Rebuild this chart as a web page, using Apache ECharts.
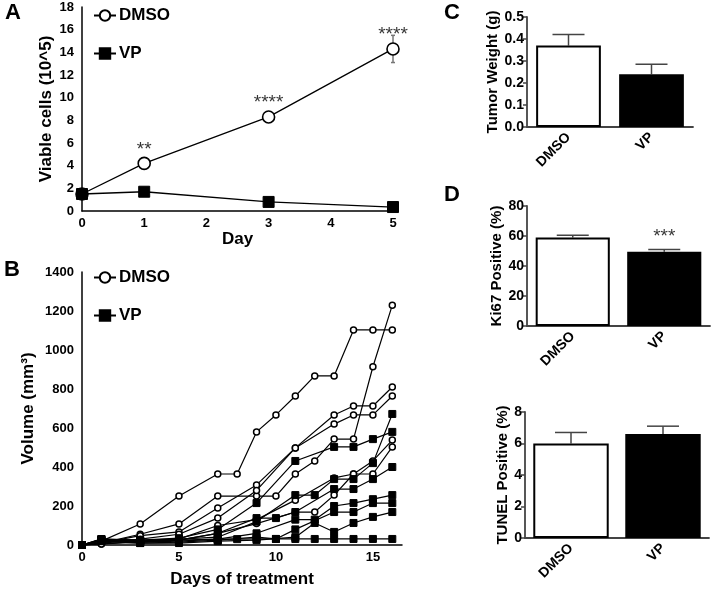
<!DOCTYPE html>
<html>
<head>
<meta charset="utf-8">
<script src="https://cdn.jsdelivr.net/npm/echarts@6/dist/echarts.min.js"></script>
<style>
  html, body { margin: 0; padding: 0; background: #fff; }
  #chart { width: 716px; height: 593px; }
</style>
</head>
<body>
<div id="chart"></div>
<script>
var FONT = 'Liberation Sans, Arial, sans-serif';

// panel A - viable cells
var dayA = [0, 1, 3, 5];
var dmsoCells = [1.5, 4.2, 8.3, 14.3];
var vpCells = [1.5, 1.7, 0.8, 0.35];
var dmsoCellsErr = [[5, 13.1, 15.5]];
var starsA = ['', '**', '****', '****'];

// panel B - tumour volumes per mouse
var daysB = [0, 1, 3, 5, 7, 8, 9, 10, 11, 12, 13, 14, 15, 16];
var dmsoVolumes = [
  [0, 20, 108, 251, 364, 364, 580, 667, 764, 867, 867, 1103, 1103, 1103],
  [0, 10, 55, 108, 251, null, 251, 251, 364, 431, 543, 543, 914, 1230],
  [0, 10, 48, 67, 190, null, 308, null, 498, null, 667, 713, 713, 810],
  [0, 8, 30, 55, 138, null, 280, null, 498, null, 620, 667, 667, 764],
  [0, 5, 20, 30, 100, null, 130, null, 230, null, 344, 364, 431, 538],
  [0, 5, 15, 25, 60, null, 110, null, 169, 169, 256, 364, 364, 503]
];
var vpVolumes = [
  [0, 30, 25, 30, 40, null, 120, null, 256, 256, 338, 338, 420, 672],
  [0, 30, 25, 35, 80, null, 215, null, 431, null, 503, 503, 543, 580],
  [0, 30, 20, 25, 60, null, 138, 138, 169, null, 287, 287, 338, 400],
  [0, 25, 15, 20, 30, null, 60, null, 130, 130, 200, 215, 235, 256],
  [0, 20, 10, 15, 25, null, 40, 31, 80, null, 169, 169, 215, 215],
  [0, 20, 10, 10, 20, null, 25, null, 40, 113, 67, 113, 144, 169],
  [0, 25, 20, 25, 30, 30, 31, 31, 31, 31, 31, 31, 31, 31]
];

// panels C, D - bars
var groups = ['DMSO', 'VP'];
var tumorWeight = [0.37, 0.24];
var tumorWeightErr = [0.05, 0.045];
var ki67 = [59, 49.5];
var ki67Err = [1.5, 1.5];
var ki67Stars = ['', '***'];
var tunel = [6.0, 6.6];
var tunelErr = [0.7, 0.5];

function errBars(capHalf, color) {
  return function (params, api) {
    var x = api.value(0);
    var p1 = api.coord([x, api.value(1)]);
    var p2 = api.coord([x, api.value(2)]);
    var st = { stroke: color, lineWidth: 1.5 };
    var kids = [
      { type: 'line', shape: { x1: p1[0], y1: p1[1], x2: p2[0], y2: p2[1] }, style: st },
      { type: 'line', shape: { x1: p2[0] - capHalf, y1: p2[1], x2: p2[0] + capHalf, y2: p2[1] }, style: st }
    ];
    if (capHalf < 5) {
      kids.push({ type: 'line', shape: { x1: p1[0] - capHalf, y1: p1[1], x2: p1[0] + capHalf, y2: p1[1] }, style: st });
    }
    return { type: 'group', children: kids };
  };
}

function pairs(xs, ys) {
  return xs.map(function (x, i) { return ys[i] == null ? null : [x, ys[i]]; })
           .filter(function (p) { return p; });
}

var boldLabel = { fontFamily: FONT, fontWeight: 'bold', color: '#000' };

function lineXAxis(grid, max, interval, name, gap) {
  return {
    gridIndex: grid, type: 'value', min: 0, max: max, interval: interval,
    axisLine: { onZero: false, lineStyle: { color: '#000', width: 1.5 } },
    axisTick: { show: false }, splitLine: { show: false },
    axisLabel: Object.assign({ fontSize: 13, margin: 6, showMaxLabel: max % interval === 0 }, boldLabel),
    name: name, nameLocation: 'middle', nameGap: gap,
    nameTextStyle: Object.assign({ fontSize: 17 }, boldLabel)
  };
}
function lineYAxis(grid, max, interval, name, gap) {
  return {
    gridIndex: grid, type: 'value', min: 0, max: max, interval: interval,
    axisLine: { show: true, onZero: false, lineStyle: { color: '#000', width: 1.5 } },
    axisTick: { show: false }, splitLine: { show: false },
    axisLabel: Object.assign({ fontSize: 13, margin: 8, formatter: function (v) { return String(v); } }, boldLabel),
    name: name, nameLocation: 'middle', nameGap: gap,
    nameTextStyle: Object.assign({ fontSize: 17 }, boldLabel)
  };
}
function barXAxis(grid) {
  return {
    gridIndex: grid, type: 'category', data: groups,
    axisLine: { lineStyle: { color: '#444', width: 1.8 } },
    axisTick: { alignWithLabel: true, length: 5, lineStyle: { color: '#444', width: 1.5 } },
    axisLabel: Object.assign({ fontSize: 14, rotate: 45, margin: 8 }, boldLabel)
  };
}
function barYAxis(grid, max, interval, name, gap, digits) {
  return {
    gridIndex: grid, type: 'value', min: 0, max: max, interval: interval,
    axisLine: { show: true, lineStyle: { color: '#444', width: 1.8 } },
    axisTick: { show: true, length: 4, lineStyle: { color: '#444', width: 1.5 } },
    splitLine: { show: false },
    axisLabel: Object.assign({ fontSize: 14, margin: 3, formatter: function (v) { return v.toFixed(digits); } }, boldLabel),
    name: name, nameLocation: 'middle', nameGap: gap,
    nameTextStyle: Object.assign({ fontSize: 15 }, boldLabel)
  };
}

var dmsoItem = { color: '#fff', borderColor: '#000', borderWidth: 1.6 };
var vpItem = { color: '#000', borderColor: '#000', borderWidth: 1 };
var starLabel = { show: true, position: 'top', formatter: '{b}', fontSize: 19, fontFamily: FONT, color: '#000' };

var series = [
  { type: 'line', name: 'DMSO', xAxisIndex: 0, yAxisIndex: 0, data: pairs(dayA, dmsoCells),
    symbol: 'circle', symbolSize: 12, itemStyle: dmsoItem, lineStyle: { color: '#000', width: 1.3 }, clip: false, z: 4 },
  { type: 'line', name: 'VP', xAxisIndex: 0, yAxisIndex: 0, data: pairs(dayA, vpCells),
    symbol: 'rect', symbolSize: 11, itemStyle: vpItem, lineStyle: { color: '#000', width: 1.3 }, clip: false, z: 4 },
  { type: 'custom', xAxisIndex: 0, yAxisIndex: 0, data: dmsoCellsErr, renderItem: errBars(2, '#777'), z: 3 },
  { type: 'scatter', xAxisIndex: 0, yAxisIndex: 0, symbolSize: 1, itemStyle: { color: 'rgba(0,0,0,0)' },
    data: dayA.map(function (d, i) { return { name: starsA[i], value: [d, dmsoCells[i]] }; }),
    label: Object.assign({ distance: 4 }, starLabel), z: 5 }
];

dmsoVolumes.forEach(function (v) {
  series.push({ type: 'line', name: 'DMSO', xAxisIndex: 1, yAxisIndex: 1, data: pairs(daysB, v),
    symbol: 'circle', symbolSize: 6, itemStyle: { color: '#fff', borderColor: '#000', borderWidth: 1.5 },
    lineStyle: { color: '#000', width: 1.2 }, clip: false, z: 3 });
});
vpVolumes.forEach(function (v) {
  series.push({ type: 'line', name: 'VP', xAxisIndex: 1, yAxisIndex: 1, data: pairs(daysB, v),
    symbol: 'rect', symbolSize: 7, itemStyle: vpItem,
    lineStyle: { color: '#000', width: 1.2 }, clip: false, z: 3 });
});

function barSeries(axis, values, errs, width, stars) {
  var out = [
    { type: 'bar', xAxisIndex: axis, yAxisIndex: axis, barWidth: width,
      data: values.map(function (v, i) {
        return { value: v, itemStyle: i === 0 ? { color: '#fff', borderColor: '#000', borderWidth: 2 } : { color: '#000', borderColor: '#000', borderWidth: 2 } };
      }), z: 3 },
    { type: 'custom', xAxisIndex: axis, yAxisIndex: axis, renderItem: errBars(16, '#444'),
      data: values.map(function (v, i) { return [i, v, v + errs[i]]; }), z: 2 }
  ];
  if (stars) {
    out.push({ type: 'scatter', xAxisIndex: axis, yAxisIndex: axis, symbolSize: 1, itemStyle: { color: 'rgba(0,0,0,0)' },
      data: values.map(function (v, i) { return { name: stars[i], value: [i, v + errs[i]] }; }),
      label: Object.assign({ distance: 3 }, starLabel) });
  }
  return out;
}
series = series.concat(barSeries(2, tumorWeight, tumorWeightErr, '78%'))
               .concat(barSeries(3, ki67, ki67Err, '81%', ki67Stars))
               .concat(barSeries(4, tunel, tunelErr, '82%'));

var legendBase = {
  orient: 'vertical', left: 88, itemGap: 21, itemWidth: 22, itemHeight: 13,
  data: ['DMSO', 'VP'], selectedMode: false,
  textStyle: { fontSize: 17, fontWeight: 'bold', fontFamily: FONT, color: '#000', padding: [0, 0, 0, -2] }
};

var chart = echarts.init(document.getElementById('chart'), null, { renderer: 'canvas' });
chart.setOption({
  animation: false,
  backgroundColor: '#fff',
  textStyle: { fontFamily: FONT },
  grid: [
    { left: 82, top: 7, width: 311, height: 204 },
    { left: 82, top: 272, width: 320, height: 273 },
    { left: 527, top: 17, width: 166, height: 110 },
    { left: 527, top: 206, width: 183, height: 120 },
    { left: 525, top: 412, width: 184, height: 126 }
  ],
  xAxis: [
    lineXAxis(0, 5, 1, 'Day', 18),
    lineXAxis(1, 16.5, 5, 'Days of treatment', 26),
    barXAxis(2), barXAxis(3), barXAxis(4)
  ],
  yAxis: [
    lineYAxis(0, 18, 2, 'Viable cells (10^5)', 27),
    lineYAxis(1, 1400, 200, 'Volume (mm\u00b3)', 45),
    barYAxis(2, 0.5, 0.1, 'Tumor Weight (g)', 22, 1),
    barYAxis(3, 80, 20, 'Ki67 Positive (%)', 17, 0),
    barYAxis(4, 8, 2, 'TUNEL Positive (%)', 15, 0)
  ],
  legend: [
    Object.assign({ top: 2 }, legendBase),
    Object.assign({ top: 264 }, legendBase)
  ],
  graphic: [
    { type: 'text', left: 5, top: 2, style: { text: 'A', fontSize: 22, fontWeight: 'bold', fontFamily: FONT, fill: '#000' } },
    { type: 'text', left: 4, top: 259, style: { text: 'B', fontSize: 22, fontWeight: 'bold', fontFamily: FONT, fill: '#000' } },
    { type: 'text', left: 444, top: 2, style: { text: 'C', fontSize: 22, fontWeight: 'bold', fontFamily: FONT, fill: '#000' } },
    { type: 'text', left: 444, top: 184, style: { text: 'D', fontSize: 22, fontWeight: 'bold', fontFamily: FONT, fill: '#000' } }
  ],
  series: series
});
</script>
</body>
</html>
